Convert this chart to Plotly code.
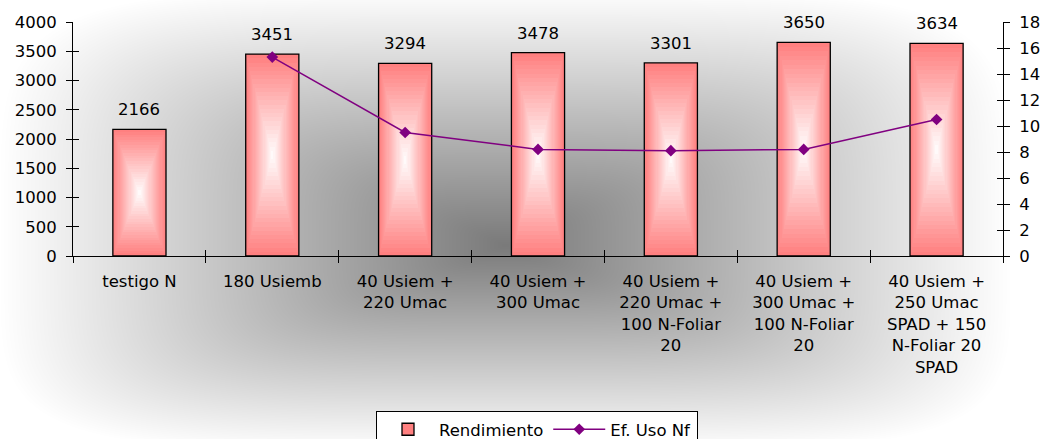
import numpy as np
import zlib
import struct
import base64
import plotly.graph_objects as go

# ---------------- data ----------------
categories = [
    "testigo N",
    "180 Usiemb",
    "40 Usiem +<br>220 Umac",
    "40 Usiem +<br>300 Umac",
    "40 Usiem +<br>220 Umac +<br>100 N-Foliar<br>20",
    "40 Usiem +<br>300 Umac +<br>100 N-Foliar<br>20",
    "40 Usiem +<br>250 Umac<br>SPAD + 150<br>N-Foliar 20<br>SPAD",
]
rendimiento = [2166, 3451, 3294, 3478, 3301, 3650, 3634]
ef_uso_nf = [None, 15.3, 9.5, 8.2, 8.1, 8.2, 10.5]
y1_ticks = [0, 500, 1000, 1500, 2000, 2500, 3000, 3500, 4000]
y2_ticks = [0, 2, 4, 6, 8, 10, 12, 14, 16, 18]

# ---------------- figure geometry ----------------
W, H = 1045, 439
ML, MR, MT, MB = 73, 42, 22, 183
PW, PH = W - ML - MR, H - MT - MB
FONT = "DejaVu Sans, Liberation Sans, Arial, sans-serif"
FS = 16.5


# ---------------- background (rectangular from-center gradient) ----------------
def _chunk(tag, data):
    return struct.pack(">I", len(data)) + tag + data + struct.pack(">I", zlib.crc32(tag + data) & 0xFFFFFFFF)


def gray_png(arr):
    h, w = arr.shape
    raw = b"".join(b"\x00" + arr[r].tobytes() for r in range(h))
    return (b"\x89PNG\r\n\x1a\n"
            + _chunk(b"IHDR", struct.pack(">IIBBBBB", w, h, 8, 0, 0, 0, 0))
            + _chunk(b"IDAT", zlib.compress(raw, 9))
            + _chunk(b"IEND", b""))


xs = np.arange(W)[None, :].astype(float)
ys = np.arange(H)[:, None].astype(float)
cx, cy = 505.0, 245.0
hx = 505.0
hy_top, hy_bot = 255.0, 205.0
tx = np.abs(xs - cx) / hx
ty = np.where(ys < cy, (cy - ys) / hy_top, (ys - cy) / hy_bot)
p = 5.0
t = np.clip((tx ** p + ty ** p) ** (1 / p), 0, 1)
val = (122 + 133 * t).astype(np.uint8)
bg_src = "data:image/png;base64," + base64.b64encode(gray_png(val)).decode()

fig = go.Figure()

# ---------------- bars with centre gradient (layered) ----------------
N = 24
pink = np.array([255, 128, 128])
white = np.array([255, 255, 255])
BW = 0.4
for i in range(N):
    k = i / N
    c = pink * (1 - k) + white * k
    col = "rgb(%d,%d,%d)" % tuple(np.round(c).astype(int))
    fig.add_trace(go.Bar(
        x=categories,
        y=[v * (1 - k) for v in rendimiento],
        base=[v * k / 2 for v in rendimiento],
        width=BW * (1 - k),
        marker=dict(color=col,
                    line=dict(color="black", width=1.3 if i == 0 else 0)),
        name="Rendimiento",
        showlegend=(i == 0),
        legendgroup="rend",
    ))

# ---------------- line ----------------
fig.add_trace(go.Scatter(
    x=categories, y=ef_uso_nf, yaxis="y2", name="Ef. Uso Nf",
    mode="lines+markers",
    line=dict(color="#800080", width=1.5),
    marker=dict(symbol="diamond", size=9, color="#800080"),
    connectgaps=False,
))

# invisible helper traces for crossing tick marks
fig.add_trace(go.Scatter(x=categories, y=[None] * len(categories), xaxis="x2", yaxis="y3",
                         showlegend=False, mode="lines"))
fig.add_trace(go.Scatter(x=categories, y=[None] * len(categories), xaxis="x2", yaxis="y4",
                         showlegend=False, mode="lines"))

# ---------------- value labels ----------------
for c_, v in zip(categories, rendimiento):
    fig.add_annotation(x=c_, y=v, text=str(v), showarrow=False, yanchor="bottom",
                       yshift=8, font=dict(family=FONT, size=FS, color="black"))

axis_common = dict(showgrid=False, zeroline=False, linecolor="black", linewidth=1,
                   tickcolor="black", tickwidth=1, ticklen=6)

fig.update_layout(
    width=W, height=H,
    margin=dict(l=ML, r=MR, t=MT, b=MB, autoexpand=False),
    paper_bgcolor="white",
    plot_bgcolor="rgba(0,0,0,0)",
    font=dict(family=FONT, size=FS, color="black"),
    barmode="overlay",
    bargap=0,
    hovermode=False,
    xaxis=dict(type="category", categoryorder="array", categoryarray=categories,
               range=[-0.5, len(categories) - 0.5], tickson="boundaries",
               ticks="outside", showline=True, ticklabelstandoff=10, **axis_common),
    xaxis2=dict(type="category", categoryorder="array", categoryarray=categories,
                range=[-0.5, len(categories) - 0.5], tickson="boundaries",
                overlaying="x", anchor="y", ticks="inside", showline=False,
                showticklabels=False, **axis_common),
    yaxis=dict(range=[0, 4000], tickvals=y1_ticks, ticks="outside", showline=True,
               ticklabelstandoff=6, **axis_common),
    yaxis2=dict(range=[0, 18], tickvals=y2_ticks, overlaying="y", side="right",
                anchor="x", ticks="outside", showline=True, ticklabelstandoff=6,
                **axis_common),
    yaxis3=dict(range=[0, 4000], tickvals=y1_ticks, overlaying="y", side="left",
                anchor="x", ticks="inside", showline=False, showticklabels=False,
                **axis_common),
    yaxis4=dict(range=[0, 18], tickvals=y2_ticks, overlaying="y", side="right",
                anchor="x", ticks="inside", showline=False, showticklabels=False,
                **axis_common),
    legend=dict(orientation="h", x=(537 - ML) / PW, xanchor="center",
                y=(PH - (411 - MT)) / PH, yanchor="top",
                bgcolor="white", bordercolor="black", borderwidth=1,
                font=dict(family=FONT, size=FS, color="black"),
                itemwidth=52, traceorder="normal"),
    images=[dict(source=bg_src, xref="paper", yref="paper",
                 x=-ML / PW, y=1 + MT / PH, sizex=W / PW, sizey=H / PH,
                 xanchor="left", yanchor="top", sizing="stretch", layer="below")],
    showlegend=True,
)

fig.write_html("out.html",
               config={"displayModeBar": False, "staticPlot": True},
               post_script="document.body.style.margin='0px';"
                           "document.body.style.overflow='hidden';")
